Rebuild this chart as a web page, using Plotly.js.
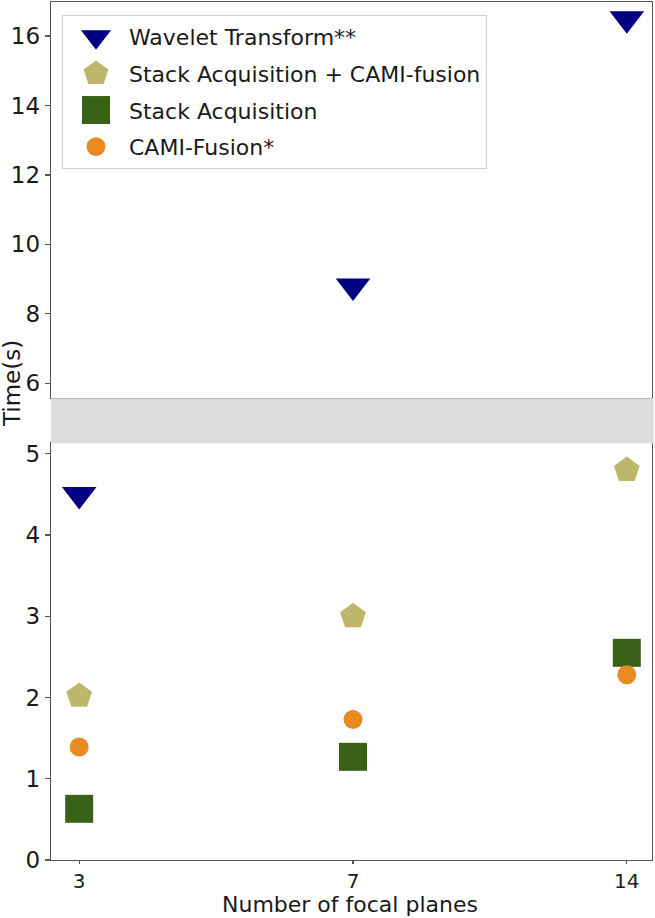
<!DOCTYPE html>
<html><head><meta charset="utf-8">
<script src="https://cdn.plot.ly/plotly-3.0.1.min.js"></script>
<style>html,body{margin:0;padding:0;background:#fff}#chart{width:655px;height:918px}</style>
</head><body><div id="chart"></div>
<script>
// ---- data ----
const categories = ['3', '7', '14'];
const waveletTransform = [4.5, 8.8, 16.5];
const stackAcqCamiFusion = [2.02, 3.0, 4.8];
const stackAcquisition = [0.63, 1.27, 2.55];
const camiFusion = [1.39, 1.73, 2.28];
const seriesNames = ['Wavelet Transform**', 'Stack Acquisition + CAMI-fusion', 'Stack Acquisition', 'CAMI-Fusion*'];
const topTickVals = [6, 8, 10, 12, 14, 16];
const bottomTickVals = [0, 1, 2, 3, 4, 5];
const xTitle = 'Number of focal planes';
const yTitle = 'Time(s)';

// ---- styles ----
const seriesData = [waveletTransform, stackAcqCamiFusion, stackAcquisition, camiFusion];
const symbols = ['triangle-down', 'pentagon', 'square', 'circle'];
const colors = ['#000080', '#bdb76b', '#3a6118', '#e88b22'];
const sizes = [30, 27, 28, 19];
const legendSizes = [26, 26, 28, 19];
const FONT = 'DejaVu Sans, sans-serif';

const traces = [];
[['x', 'y'], ['x2', 'y2']].forEach((ax, k) => {
  seriesData.forEach((vals, i) => {
    traces.push({
      type: 'scatter', mode: 'markers',
      x: categories, y: vals,
      name: seriesNames[i],
      legendgroup: 'g' + i,
      showlegend: k === 0,
      xaxis: ax[0], yaxis: ax[1],
      marker: {symbol: symbols[i], color: colors[i], size: sizes[i], line: {width: 0}},
      hoverinfo: 'skip'
    });
  });
});

const axisLine = {showline: true, linecolor: '#555', linewidth: 1.3, mirror: true, zeroline: false, showgrid: false,
  ticks: 'outside', ticklen: 5, tickcolor: '#555', tickwidth: 1.2,
  tickfont: {family: FONT, size: 23, color: '#1a1a1a'}};

const layout = {
  width: 655, height: 918,
  margin: {l: 51, r: 3, t: 2, b: 58},
  paper_bgcolor: '#fff', plot_bgcolor: '#fff',
  showlegend: true,
  legend: {x: 0.0183, y: 0.9848, xanchor: 'left', yanchor: 'top',
    bgcolor: '#fff', bordercolor: '#d0d0d0', borderwidth: 1,
    font: {family: FONT, size: 22, color: '#1a1a1a'},
    traceorder: 'grouped', tracegroupgap: 5, itemsizing: 'trace', itemwidth: 56},
  xaxis: Object.assign({}, axisLine, {type: 'category', range: [-0.103, 2.092], anchor: 'y', domain: [0, 1],
    ticklen: 3, tickfont: {family: FONT, size: 20, color: '#1a1a1a'}}),
  xaxis2: Object.assign({}, axisLine, {type: 'category', range: [-0.103, 2.092], anchor: 'y2', domain: [0, 1],
    showticklabels: false, ticks: ''}),
  yaxis: Object.assign({}, axisLine, {range: [0, 5.13], domain: [0, 0.4857], tickvals: bottomTickVals, anchor: 'x'}),
  yaxis2: Object.assign({}, axisLine, {range: [5.577, 16.979], domain: [0.5385, 1], tickvals: topTickVals, anchor: 'x2'}),
  shapes: [{type: 'rect', xref: 'paper', yref: 'paper', x0: 0, x1: 1.003, y0: 0.4857, y1: 0.5381,
    fillcolor: '#dddddd', line: {width: 0}, layer: 'above'}],
  annotations: [
    {text: xTitle, xref: 'paper', yref: 'paper', x: 0.497, y: -0.0513, xanchor: 'center', yanchor: 'middle',
      showarrow: false, font: {family: FONT, size: 22, color: '#1a1a1a'}},
    {text: yTitle, xref: 'paper', yref: 'paper', x: -0.0648, y: 0.5548, xanchor: 'center', yanchor: 'middle',
      textangle: -90, showarrow: false, font: {family: FONT, size: 23, color: '#1a1a1a'}}
  ]
};

Plotly.newPlot('chart', traces, layout, {displayModeBar: false, staticPlot: true}).then(gd => {
  const legendTraces = document.querySelectorAll('.legend .traces');
  legendTraces.forEach((t, i) => {
    const p = t.querySelector('path.scatterpts');
    if (p && legendSizes[i]) {
      const s = legendSizes[i] / 16;
      const tr = p.getAttribute('transform') || '';
      p.setAttribute('transform', tr + ' scale(' + s + ')');
    }
  });
});
</script>
</body></html>
